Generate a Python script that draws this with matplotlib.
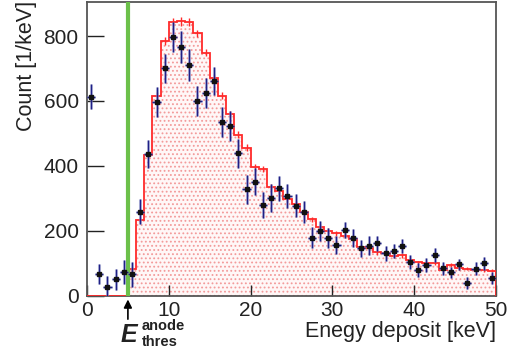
import matplotlib
matplotlib.use("Agg")
import matplotlib.pyplot as plt
import numpy as np

plt.rcParams['font.family'] = ['Liberation Sans', 'DejaVu Sans']

# ---- data -----------------------------------------------------------
data_x = [0.5, 1.5, 2.5, 3.5, 4.5, 5.5, 6.5, 7.5, 8.5, 9.5,
          10.5, 11.5, 12.5, 13.5, 14.5, 15.5, 16.5, 17.5, 18.5, 19.5,
          20.5, 21.5, 22.5, 23.5, 24.5, 25.5, 26.5, 27.5, 28.5, 29.5,
          30.5, 31.5, 32.5, 33.5, 34.5, 35.5, 36.5, 37.5, 38.5, 39.5,
          40.5, 41.5, 42.5, 43.5, 44.5, 45.5, 46.5, 47.5, 48.5, 49.5]
data_y = [613, 65, 25, 50, 72, 65, 259, 436, 596, 700,
          797, 767, 711, 600, 625, 662, 534, 523, 438, 327,
          351, 279, 300, 330, 307, 277, 257, 178, 198, 178,
          157, 202, 177, 146, 153, 161, 130, 138, 152, 103,
          79, 95, 125, 84, 72, 96, 39, 83, 100, 55]
data_err = [38, 31, 36, 32, 36, 38, 38, 43, 46, 46,
            47, 49, 49, 46, 47, 44, 46, 46, 46, 46,
            41, 41, 44, 38, 38, 36, 33, 33, 31, 31,
            28, 26, 27, 26, 29, 23, 23, 22, 22, 22,
            21, 21, 21, 20, 17, 18, 19, 19, 20, 19]
data_xerr = 0.5

mc_edges = list(range(0, 51))
mc_counts = [0, 0, 0, 0, 0, 82, 233, 433, 615, 785,
             843, 845, 843, 808, 749, 672, 616, 559, 496, 456,
             395, 390, 335, 323, 297, 282, 258, 235, 212, 200,
             192, 185, 174, 149, 146, 133, 130, 123, 124, 108,
             102, 101, 100, 79, 94, 84, 83, 80, 78, 76]
mc_err = [0, 0, 0, 0, 0, 5, 8, 10, 11, 12,
          13, 13, 13, 12, 12, 12, 10, 10, 10, 10,
          9, 9, 9, 9, 9, 8, 8, 8, 8, 8,
          7, 7, 7, 7, 7, 7, 7, 7, 7, 7,
          5, 5, 5, 5, 5, 5, 5, 5, 5, 5]

threshold = 5.0
x_ticks = [0, 10, 20, 30, 40, 50]
y_ticks = [0, 200, 400, 600, 800]

# ---- figure ---------------------------------------------------------
W, H = 507, 356
fig = plt.figure(figsize=(W / 100, H / 100), dpi=100)
ax = fig.add_axes([87 / W, 1 - 295.5 / H, (496 - 87) / W, (295.5 - 2) / H])

# MC histogram (dotted red fill)
plt.rcParams['hatch.linewidth'] = 0.8
ax.stairs(mc_counts, mc_edges, fill=True, facecolor='#fff7f7',
          edgecolor='#f39a9a', hatch='....', linewidth=0, zorder=1)
ax.stairs(mc_counts, mc_edges, color='#ff2a2a', linewidth=1.3, zorder=3)
mc_centers = [0.5 * (a + b) for a, b in zip(mc_edges[:-1], mc_edges[1:])]
ax.errorbar(mc_centers[5:], mc_counts[5:], yerr=mc_err[5:], fmt='none',
            ecolor='#ff2a2a', elinewidth=1.0, zorder=3)

# threshold line
ax.axvline(threshold, color='#6cc04a', linewidth=3.0, zorder=4)

# data points
ax.errorbar(data_x, data_y, yerr=data_err, xerr=data_xerr, fmt='none',
            ecolor='#8a90c8', elinewidth=2.2, alpha=0.55, zorder=5)
ax.errorbar(data_x, data_y, yerr=data_err, xerr=data_xerr, fmt='s',
            color='#111111', markersize=3.2, ecolor='#1f1f85',
            elinewidth=1.0, zorder=6)

ax.set_xlim(0, 50)
ax.set_ylim(0, 905)
ax.set_xticks(x_ticks)
ax.set_yticks(y_ticks)
ax.tick_params(axis='x', direction='in', length=8, width=1.0, pad=4,
               labelsize=15, colors='#222222')
ax.tick_params(axis='y', direction='in', length=12, width=1.0, pad=6,
               labelsize=15, colors='#222222')
for s in ax.spines.values():
    s.set_color('#555555')
    s.set_linewidth(1.3)

# arrow for threshold
ax.annotate('', xy=(threshold, -0.004), xytext=(threshold, -0.09),
            xycoords=('data', 'axes fraction'),
            textcoords=('data', 'axes fraction'),
            arrowprops=dict(arrowstyle='-|>', color='black', lw=1.2,
                            mutation_scale=12),
            annotation_clip=False)

fig.text(128.5 / W, 1 - 335.5 / H, 'E', fontsize=18, fontweight='bold',
         fontstyle='italic', ha='center', va='center', color='#222222')
fig.text(141.5 / W, 1 - 326 / H, 'anode', fontsize=10.5, fontweight='bold',
         ha='left', va='center', color='#222222')
fig.text(141.5 / W, 1 - 341.5 / H, 'thres', fontsize=10.5, fontweight='bold',
         ha='left', va='center', color='#222222')

fig.text(496 / W, 1 - 337 / H, 'Enegy deposit [keV]', fontsize=15.5,
         ha='right', va='baseline', color='#222222')
fig.text(26.5 / W, 1 - 1 / H, 'Count [1/keV]', fontsize=15.5,
         rotation=90, ha='center', va='top', color='#222222')

fig.savefig('out.png', dpi=100)
